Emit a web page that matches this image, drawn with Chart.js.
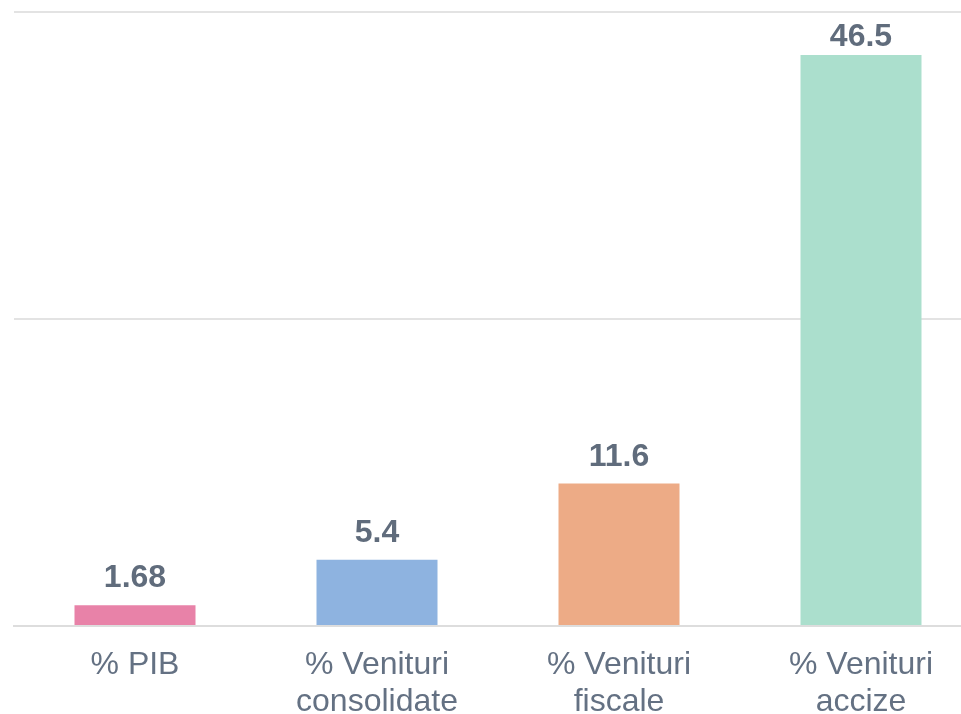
<!DOCTYPE html>
<html>
<head>
<meta charset="utf-8">
<script src="https://cdn.jsdelivr.net/npm/chart.js@4"></script>
<style>
html,body{margin:0;padding:0;overflow:hidden;background:#fff;}
#wrap{width:990px;height:714px;position:relative;}
</style>
</head>
<body>
<div id="wrap"><canvas id="c"></canvas></div>
<script>
const categories = [["% PIB"], ["% Venituri", "consolidate"], ["% Venituri", "fiscale"], ["% Venituri", "accize"]];
const values = [1.68, 5.4, 11.6, 46.5];
const barColors = ["#E882A8", "#8EB3E0", "#EDAB86", "#ABDFCD"];
const yTicks = [0, 25, 50];

const labelPlugin = {
  id: 'valueLabels',
  afterDatasetsDraw(chart) {
    const ctx = chart.ctx;
    const meta = chart.getDatasetMeta(0);
    ctx.save();
    ctx.font = 'bold 32px "Liberation Sans", Arial, sans-serif';
    ctx.fillStyle = '#606C7C';
    ctx.textAlign = 'center';
    ctx.textBaseline = 'alphabetic';
    meta.data.forEach((bar, i) => {
      let base = bar.y - 18;
      const minBase = chart.chartArea.top + 34;
      if (base < minBase) base = minBase;
      ctx.fillText(String(values[i]), bar.x, base);
    });
    ctx.restore();
  }
};

new Chart(document.getElementById('c'), {
  type: 'bar',
  data: {
    labels: categories,
    datasets: [{
      data: values,
      backgroundColor: barColors,
      categoryPercentage: 1,
      barPercentage: 0.5
    }]
  },
  options: {
    responsive: true,
    maintainAspectRatio: false,
    animation: false,
    layout: { padding: { top: 12, right: 8, left: 0, bottom: 0 } },
    plugins: { legend: { display: false }, tooltip: { enabled: false } },
    scales: {
      x: {
        grid: { display: false, drawTicks: false },
        border: { display: true, color: '#DDDDDD', width: 2 },
        ticks: {
          color: '#647183',
          font: { family: '"Liberation Sans", Arial, sans-serif', size: 32, lineHeight: 1.156 },
          padding: 21,
          maxRotation: 0,
          autoSkip: false
        },
        afterFit(scale) { scale.height = 88; }
      },
      y: {
        min: 0, max: 50,
        afterBuildTicks(scale) { scale.ticks = yTicks.map(v => ({ value: v })); },
        grid: { color: '#E3E3E3', lineWidth: 2, drawTicks: false },
        border: { display: false },
        ticks: { display: false },
        afterFit(scale) { scale.width = 14; }
      }
    }
  },
  plugins: [labelPlugin]
});
</script>
</body>
</html>
